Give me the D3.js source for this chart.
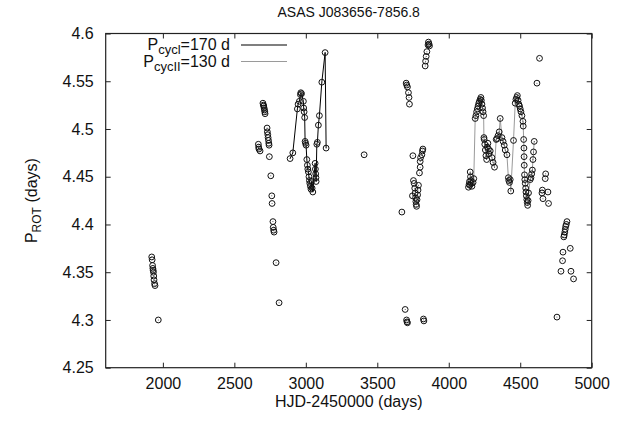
<!DOCTYPE html>
<html>
<head>
<meta charset="utf-8">
<script src="https://cdn.jsdelivr.net/npm/d3@7"></script>
<style>
  html, body { margin: 0; padding: 0; background: #fff; }
  svg { display: block; font-family: "Liberation Sans", Arial, Helvetica, sans-serif; }
</style>
</head>
<body>
<svg id="chart" width="633" height="423"></svg>
<script>
// ---- data (HJD-2450000, P_ROT in days) ----
const hjd = [
  1922,1925,1928,1930,1932,1934,1936,1938,1942,1945,1968,
  2668,2670,2672,2680,2700,2703,2706,2708,2711,2713,2715,2729,2731,2734,2736,2739,2741,2743,2745,2755,2762,2764,2770,2772,2775,2778,2792,2813,
  2890,2909,2941,2946,2955,2962,2965,2970,2983,2985,2988,2992,2995,2998,3002,3007,3011,3014,3018,3022,3025,3028,3032,3036,3040,3044,3049,3065,3067,3069,3071,3072,3077,3081,3088,3095,3112,3135,3142,
  3408,
  3672,3695,3705,3708,3711,3702,3706,3711,3718,3722,3725,3749,3746,3753,3758,3762,3765,3768,3770,3772,3775,3778,3782,3785,3788,3795,3800,3800,3803,3812,3816,3819,3823,3826,3835,3838,3842,3847,3855,3858,3862,3865,
  4138,4142,4145,4148,4150,4152,4155,4158,4162,4170,4175,4185,4190,4195,4200,4205,4210,4215,4220,4225,4228,4232,4236,4240,4244,4246,4248,4252,4256,4260,4265,4270,4274,4278,4282,4290,4302,4310,4320,4332,4337,4345,4353,4360,4372,4380,4388,4395,4407,4417,4420,4425,4430,4434,4453,4465,4470,4475,4480,4485,4490,4495,4500,4505,4512,4519,4521,4524,4526,4527,4528,4530,4532,4535,4538,4540,4543,4546,4549,4552,4555,4558,4570,4575,4580,4585,4589,4593,4598,
  4617,4635,4652,4655,4659,4675,4678,4694,4698,
  4757,4785,4796,4799,4805,4808,4812,4815,4818,4822,4827,4850,4855,4873
];
const prot = [
  4.366,4.363,4.357,4.354,4.352,4.350,4.346,4.342,4.338,4.336,4.300,
  4.484,4.481,4.479,4.477,4.527,4.525,4.524,4.522,4.520,4.518,4.516,4.501,4.497,4.494,4.491,4.488,4.485,4.483,4.471,4.451,4.430,4.422,4.403,4.397,4.394,4.392,4.360,4.318,
  4.469,4.475,4.521,4.526,4.529,4.536,4.538,4.537,4.529,4.522,4.518,4.512,4.487,4.485,4.483,4.468,4.462,4.458,4.455,4.450,4.446,4.443,4.440,4.437,4.445,4.438,4.434,4.464,4.458,4.453,4.449,4.445,4.484,4.486,4.504,4.514,4.549,4.580,4.480,
  4.473,
  4.413,4.311,4.300,4.298,4.297,4.548,4.546,4.544,4.538,4.533,4.526,4.472,4.430,4.446,4.443,4.438,4.433,4.428,4.424,4.421,4.419,4.426,4.431,4.436,4.441,4.454,4.460,4.466,4.470,4.473,4.477,4.479,4.301,4.299,4.566,4.571,4.576,4.581,4.588,4.591,4.589,4.587,
  4.439,4.442,4.445,4.441,4.455,4.450,4.446,4.443,4.440,4.444,4.448,4.511,4.514,4.518,4.521,4.524,4.527,4.529,4.531,4.533,4.530,4.526,4.522,4.518,4.514,4.491,4.489,4.484,4.478,4.472,4.468,4.481,4.485,4.479,4.474,4.477,4.470,4.465,4.460,4.489,4.490,4.493,4.497,4.511,4.491,4.487,4.483,4.478,4.473,4.449,4.446,4.444,4.447,4.435,4.488,4.527,4.531,4.533,4.535,4.530,4.526,4.524,4.521,4.518,4.514,4.508,4.503,4.489,4.480,4.471,4.462,4.452,4.447,4.443,4.438,4.434,4.430,4.426,4.423,4.420,4.425,4.433,4.447,4.449,4.453,4.457,4.468,4.476,4.487,
  4.548,4.574,4.433,4.436,4.427,4.448,4.453,4.434,4.422,
  4.303,4.351,4.362,4.371,4.387,4.389,4.392,4.395,4.398,4.400,4.403,4.375,4.351,4.343
];
// cycle segments drawn as lines
const cycleNames = ["cycl", "cycII"];
const cycleLabels = ["=170 d", "=130 d"];
const cycleRanges = [[2880, 3150], [4130, 4600]];
const cycleColors = ["#000000", "#9a9a9a"];

const xTicks = [2000, 2500, 3000, 3500, 4000, 4500, 5000];
const yTicks = [4.25, 4.3, 4.35, 4.4, 4.45, 4.5, 4.55, 4.6];
const xDomain = [1600, 5000];
const yDomain = [4.25, 4.6];

const titleText = "ASAS J083656-7856.8";
const xTitle = "HJD-2450000 (days)";

// ---- layout ----
const L = 105.7, R = 591.7, T = 33.5, B = 367.7;
const svg = d3.select("#chart");
const x = d3.scaleLinear().domain(xDomain).range([L, R]);
const y = d3.scaleLinear().domain(yDomain).range([B, T]);

const pts = hjd.map((h, i) => ({ h, p: prot[i] }));

// ---- cycle lines ----
const line = d3.line().x(d => x(d.h)).y(d => y(d.p));
cycleRanges.forEach((rg, k) => {
  const seg = pts.filter(d => d.h >= rg[0] && d.h <= rg[1]).sort((a, b) => a.h - b.h);
  svg.append("path").datum(seg)
    .attr("d", line).attr("fill", "none")
    .attr("stroke", cycleColors[k]).attr("stroke-width", 1);
});

// ---- points ----
const g = svg.append("g");
g.selectAll("circle.pt").data(pts).enter().append("circle")
  .attr("class", "pt")
  .attr("cx", d => x(d.h)).attr("cy", d => y(d.p)).attr("r", 2.9)
  .attr("fill", "none").attr("stroke", "#111").attr("stroke-width", 1);
g.selectAll("circle.dot").data(pts).enter().append("circle")
  .attr("class", "dot")
  .attr("cx", d => x(d.h)).attr("cy", d => y(d.p)).attr("r", 0.5)
  .attr("fill", "#333");

// ---- axes (gnuplot style, inward mirrored ticks) ----
const tickLen = 5;
const axB = svg.append("g").attr("transform", `translate(0,${B})`)
  .call(d3.axisBottom(x).tickValues(xTicks).tickSize(-tickLen).tickPadding(10).tickFormat(d3.format("d")));
const axT = svg.append("g").attr("transform", `translate(0,${T})`)
  .call(d3.axisTop(x).tickValues(xTicks).tickSize(-tickLen).tickFormat(""));
const axL = svg.append("g").attr("transform", `translate(${L},0)`)
  .call(d3.axisLeft(y).tickValues(yTicks).tickSize(-tickLen).tickPadding(12).tickFormat(d3.format("~g")));
const axR = svg.append("g").attr("transform", `translate(${R},0)`)
  .call(d3.axisRight(y).tickValues(yTicks).tickSize(-tickLen).tickFormat(""));
[axB, axT, axL, axR].forEach(a => {
  a.selectAll(".domain").remove();
  a.selectAll(".tick line").attr("stroke", "#222").attr("stroke-width", 1);
  a.selectAll(".tick text").attr("fill", "#111").style("font-size", "16px")
    .style("font-family", "'Liberation Sans', Arial, sans-serif");
});
svg.append("rect").attr("x", L).attr("y", T).attr("width", R - L).attr("height", B - T)
  .attr("fill", "none").attr("stroke", "#222").attr("stroke-width", 1.2);

// ---- texts ----
svg.append("text").attr("x", (L + R) / 2).attr("y", 17).attr("text-anchor", "middle")
  .style("font-size", "14px").attr("fill", "#111").text(titleText);
svg.append("text").attr("x", (L + R) / 2).attr("y", 407).attr("text-anchor", "middle")
  .style("font-size", "16px").attr("fill", "#111").text(xTitle);
const yl = svg.append("text").attr("transform", `translate(37,${(T + B) / 2}) rotate(-90)`)
  .attr("text-anchor", "middle").style("font-size", "16px").attr("fill", "#111");
yl.append("tspan").text("P");
yl.append("tspan").attr("dy", 4).style("font-size", "12px").text("ROT");
yl.append("tspan").attr("dy", -4).text(" (days)");

// ---- legend ----
const legY = [45, 61.5];
cycleNames.forEach((nm, k) => {
  const t = svg.append("text").attr("x", 230).attr("y", legY[k] + 5)
    .attr("text-anchor", "end").style("font-size", "16px").attr("fill", "#111");
  t.append("tspan").text("P");
  t.append("tspan").attr("dy", 4).style("font-size", "13px").text(nm);
  t.append("tspan").attr("dy", -4).text(cycleLabels[k]);
  svg.append("line").attr("x1", 241).attr("x2", 287).attr("y1", legY[k]).attr("y2", legY[k])
    .attr("stroke", cycleColors[k]).attr("stroke-width", k === 0 ? 1.2 : 1);
});
</script>
</body>
</html>
